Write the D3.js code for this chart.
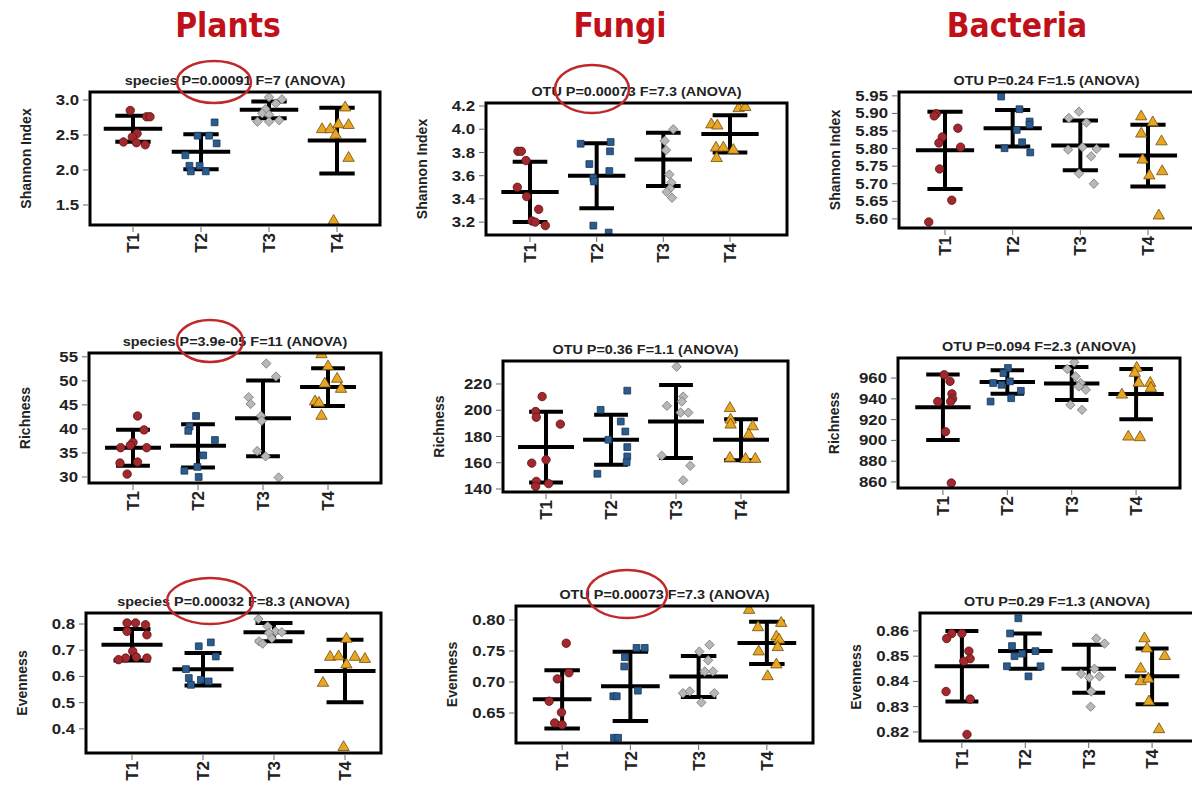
<!DOCTYPE html>
<html>
<head>
<meta charset="utf-8">
<script src="https://cdn.jsdelivr.net/npm/d3@7"></script>
<style>
  body { margin: 0; background: #fff; }
  svg { display: block; }
</style>
</head>
<body>
<svg id="chart" width="1192" height="787"></svg>
<script>
// ---- categories -----------------------------------------------------------
const groups = ["T1", "T2", "T3", "T4"];
const kingdoms = ["Plants", "Fungi", "Bacteria"];
const indexNames = ["Shannon Index", "Richness", "Evenness"];

// ---- observations: [jitter within group, value] ---------------------------
const plantsShannonPts = [
  [[-0.04,2.85],[0.20,2.76],[0.25,2.76],[0.06,2.52],[-0.01,2.47],[-0.14,2.40],[0.05,2.39],[0.18,2.36]],
  [[0.20,2.68],[0.12,2.49],[-0.05,2.49],[0.23,2.38],[-0.23,2.21],[-0.17,2.06],[-0.02,2.06],[-0.15,1.98],[0.07,1.98]],
  [[0,3.04],[0.19,3.01],[0.10,2.95],[-0.05,2.87],[-0.10,2.81],[0,2.79],[-0.17,2.69],[0,2.69],[0.15,2.71]],
  [[0.12,2.89],[-0.22,2.58],[-0.10,2.58],[-0.02,2.50],[0.02,2.65],[0.17,2.64],[0.17,2.17],[-0.05,1.27]]
];
const plantsShannonMean = [2.59, 2.26, 2.86, 2.42];
const plantsShannonSD = [0.185, 0.25, 0.12, 0.47];
const plantsShannonTicks = [1.5, 2.0, 2.5, 3.0];

const fungiShannonPts = [
  [[-0.18,3.81],[-0.13,3.81],[-0.06,3.73],[-0.19,3.50],[-0.05,3.42],[0.13,3.31],[0.03,3.21],[0.08,3.20],[0.23,3.17]],
  [[-0.24,3.875],[0.21,3.89],[0.20,3.81],[-0.11,3.70],[0.19,3.64],[-0.05,3.58],[-0.04,3.55],[-0.05,3.17],[0.18,3.11]],
  [[0.15,4.00],[0.02,3.90],[0.04,3.82],[0.09,3.61],[0.12,3.54],[0.10,3.49],[0.05,3.46],[0.13,3.41]],
  [[0.13,4.18],[0.23,4.19],[-0.28,4.04],[-0.19,4.03],[-0.21,3.84],[-0.10,3.84],[0.05,3.82],[-0.20,3.75]]
];
const fungiShannonMean = [3.46, 3.60, 3.74, 3.96];
const fungiShannonSD = [0.26, 0.28, 0.23, 0.16];
const fungiShannonTicks = [3.2, 3.4, 3.6, 3.8, 4.0, 4.2];

const bacteriaShannonPts = [
  [[-0.13,5.899],[-0.16,5.893],[0.19,5.858],[-0.04,5.833],[-0.09,5.816],[0.23,5.804],[-0.08,5.742],[0.10,5.653],[-0.24,5.591]],
  [[-0.17,5.948],[0.10,5.912],[0.25,5.877],[0.25,5.868],[0.06,5.853],[0.14,5.818],[-0.12,5.801],[0.26,5.789]],
  [[0.09,5.874],[-0.17,5.887],[-0.02,5.905],[-0.18,5.797],[0.03,5.804],[0.24,5.799],[0.16,5.778],[-0.02,5.729],[0.20,5.700]],
  [[-0.10,5.891],[0.07,5.874],[-0.10,5.842],[0.20,5.820],[-0.08,5.768],[0.21,5.735],[0.02,5.723],[0.16,5.609]]
];
const bacteriaShannonMean = [5.795, 5.858, 5.809, 5.780];
const bacteriaShannonSD = [0.11, 0.052, 0.071, 0.088];
const bacteriaShannonTicks = [5.60, 5.65, 5.70, 5.75, 5.80, 5.85, 5.90, 5.95];

const plantsRichnessPts = [
  [[0.07,42.7],[0.17,39.8],[0,37.2],[-0.04,36.6],[-0.19,36.1],[0.21,36.1],[-0.20,32.9],[0.07,33.1],[-0.09,30.6]],
  [[-0.03,42.7],[-0.13,40.5],[-0.15,39.6],[0.26,37.7],[0.08,34.5],[-0.01,32.1],[-0.21,31.3],[0.01,30.0]],
  [[0.05,53.6],[0.20,50.9],[-0.22,46.6],[-0.19,45.2],[-0.03,42.7],[-0.02,41.7],[-0.09,35.4],[0.04,34.3],[0.24,29.9]],
  [[-0.10,55.5],[0,53.0],[0.14,50.4],[-0.05,49.4],[0.20,48.3],[-0.20,45.7],[-0.14,45.4],[-0.10,42.7]]
];
const plantsRichnessMean = [36.1, 36.5, 42.2, 48.7];
const plantsRichnessSD = [3.75, 4.5, 7.9, 3.95];
const plantsRichnessTicks = [30, 35, 40, 45, 50, 55];

const fungiRichnessPts = [
  [[-0.06,210.4],[-0.16,199],[-0.15,194.7],[0.22,189.4],[0,162.3],[-0.22,159.7],[-0.15,145.8],[0.04,144.1],[-0.16,142.0]],
  [[0.25,214.9],[-0.16,200.3],[0.15,191.4],[0.22,183.8],[-0.04,177.5],[0.25,171.9],[0.25,164.8],[0.24,160.3],[-0.21,151.6]],
  [[0.01,233.2],[0.11,210.4],[0.09,206.6],[-0.14,203.3],[0.07,198.2],[0.19,198.2],[-0.22,165.3],[0.22,157.7],[0.11,146.6]],
  [[-0.17,201.5],[-0.16,192.7],[-0.16,188.9],[0.18,187.6],[0.12,181.3],[-0.17,163.5],[0.07,162.8],[0.22,162.8]]
];
const fungiRichnessMean = [171.9, 177.5, 191.4, 177.5];
const fungiRichnessSD = [27, 19, 27.8, 15.7];
const fungiRichnessTicks = [140, 160, 180, 200, 220];

const bacteriaRichnessPts = [
  [[0.02,963.2],[0.11,956.8],[0.14,944.8],[0.15,940],[0.12,937.4],[-0.08,937.4],[0.04,908.4],[0.13,859.0]],
  [[0.01,969.7],[-0.06,964.8],[0.04,956.8],[-0.22,955.2],[-0.09,953.5],[0.21,947.7],[0.06,940.6],[-0.26,937.4]],
  [[0.04,975.2],[-0.07,968.7],[0.06,961.6],[0.14,955.2],[0.11,951.9],[0.22,948.7],[-0.02,934.2],[0.16,929.4]],
  [[0.01,969.7],[-0.02,964.8],[0.04,955.2],[0.22,955.2],[0.23,950.3],[-0.22,943.9],[-0.12,903.5],[0.06,902.9]]
];
const bacteriaRichnessMean = [931.9, 956.1, 954.8, 944.6];
const bacteriaRichnessSD = [31.5, 11.3, 15.8, 24.2];
const bacteriaRichnessTicks = [860, 880, 900, 920, 940, 960];

const plantsEvennessPts = [
  [[-0.07,0.804],[0.05,0.804],[0.19,0.797],[-0.07,0.772],[0.21,0.759],[0.01,0.696],[0.06,0.674],[-0.09,0.670],[0.21,0.670],[-0.19,0.664]],
  [[0.11,0.730],[-0.06,0.715],[0.18,0.676],[-0.24,0.628],[-0.20,0.594],[-0.03,0.587],[0.08,0.581],[-0.17,0.568]],
  [[-0.22,0.819],[-0.09,0.791],[0.02,0.772],[0.11,0.769],[-0.07,0.766],[-0.03,0.746],[-0.21,0.734],[-0.16,0.725]],
  [[0.02,0.743],[-0.21,0.674],[-0.09,0.676],[0.14,0.674],[0.28,0.666],[0.02,0.645],[-0.31,0.575],[-0.02,0.330]]
];
const plantsEvennessMean = [0.721, 0.627, 0.769, 0.621];
const plantsEvennessSD = [0.060, 0.062, 0.035, 0.119];
const plantsEvennessTicks = [0.4, 0.5, 0.6, 0.7, 0.8];

const fungiEvennessPts = [
  [[0.06,0.7625],[0.10,0.715],[-0.07,0.705],[-0.19,0.669],[-0.01,0.651],[-0.11,0.634],[0,0.631]],
  [[0.21,0.755],[0.09,0.755],[-0.08,0.740],[-0.09,0.725],[0.11,0.686],[-0.25,0.677],[-0.20,0.677],[-0.24,0.610],[-0.18,0.610]],
  [[0.16,0.760],[0.01,0.749],[0.14,0.735],[0.21,0.717],[0.09,0.717],[-0.23,0.682],[-0.13,0.685],[0.23,0.682],[0.04,0.667]],
  [[-0.26,0.816],[0.21,0.795],[-0.13,0.788],[0.14,0.773],[0.18,0.768],[0.16,0.756],[-0.12,0.749],[0.14,0.728],[0.01,0.709]]
];
const fungiEvennessMean = [0.672, 0.693, 0.709, 0.763];
const fungiEvennessSD = [0.047, 0.056, 0.033, 0.034];
const fungiEvennessTicks = [0.65, 0.70, 0.75, 0.80];

const bacteriaEvennessPts = [
  [[0,0.859],[-0.16,0.859],[-0.24,0.857],[0.11,0.852],[0.13,0.849],[0.03,0.848],[-0.25,0.836],[0.13,0.833],[0.08,0.819]],
  [[-0.11,0.865],[-0.24,0.859],[-0.21,0.854],[0.16,0.852],[-0.05,0.851],[-0.17,0.850],[-0.29,0.846],[0.24,0.846],[0.05,0.842]],
  [[0.12,0.857],[0.25,0.855],[0.09,0.845],[-0.12,0.843],[0.17,0.842],[0.01,0.8415],[0.04,0.836],[0.03,0.830]],
  [[-0.12,0.857],[-0.08,0.853],[0.20,0.850],[-0.18,0.845],[-0.18,0.840],[-0.06,0.841],[-0.05,0.832],[0.11,0.821]]
];
const bacteriaEvennessMean = [0.846, 0.852, 0.845, 0.842];
const bacteriaEvennessSD = [0.014, 0.007, 0.0095, 0.011];
const bacteriaEvennessTicks = [0.82, 0.83, 0.84, 0.85, 0.86];

// ---- panel subtitles (test results) ---------------------------------------
const panelTitles = [
  "species P=0.00091 F=7 (ANOVA)", "OTU P=0.00073 F=7.3 (ANOVA)", "OTU P=0.24 F=1.5 (ANOVA)",
  "species P=3.9e-05 F=11 (ANOVA)", "OTU P=0.36 F=1.1 (ANOVA)", "OTU P=0.094 F=2.3 (ANOVA)",
  "species P=0.00032 F=8.3 (ANOVA)", "OTU P=0.00073 F=7.3 (ANOVA)", "OTU P=0.29 F=1.3 (ANOVA)"
];

// ---- panel geometry: plot box [left, right, top, bottom], axis extents ------
const panelLayout = [
  { box: [90, 380, 92, 225],   xd: [0.368, 4.632], yd: [1.214, 3.114],   fmt: ".1f" },
  { box: [486, 787, 103, 235], xd: [0.340, 4.855], yd: [3.089, 4.226],   fmt: ".1f" },
  { box: [899, 1194, 92, 228], xd: [0.320, 4.680], yd: [5.574, 5.961],   fmt: ".2f" },
  { box: [89, 381, 353, 483],  xd: [0.323, 4.815], yd: [28.75, 55.8],    fmt: "d" },
  { box: [503, 788, 361, 492], xd: [0.338, 4.723], yd: [137.7, 237.5],   fmt: "d" },
  { box: [898, 1180, 358, 488],xd: [0.302, 4.682], yd: [854.2, 979.3],   fmt: "d" },
  { box: [86, 381, 613, 753],  xd: [0.352, 4.507], yd: [0.308, 0.842],   fmt: ".1f" },
  { box: [516, 813, 606, 743], xd: [0.324, 4.676], yd: [0.6016, 0.8226], fmt: ".2f" },
  { box: [920, 1194, 613, 741],xd: [0.339, 4.661], yd: [0.8164, 0.8671], fmt: ".2f" }
];

const panelData = [
  [plantsShannonPts, plantsShannonMean, plantsShannonSD, plantsShannonTicks],
  [fungiShannonPts, fungiShannonMean, fungiShannonSD, fungiShannonTicks],
  [bacteriaShannonPts, bacteriaShannonMean, bacteriaShannonSD, bacteriaShannonTicks],
  [plantsRichnessPts, plantsRichnessMean, plantsRichnessSD, plantsRichnessTicks],
  [fungiRichnessPts, fungiRichnessMean, fungiRichnessSD, fungiRichnessTicks],
  [bacteriaRichnessPts, bacteriaRichnessMean, bacteriaRichnessSD, bacteriaRichnessTicks],
  [plantsEvennessPts, plantsEvennessMean, plantsEvennessSD, plantsEvennessTicks],
  [fungiEvennessPts, fungiEvennessMean, fungiEvennessSD, fungiEvennessTicks],
  [bacteriaEvennessPts, bacteriaEvennessMean, bacteriaEvennessSD, bacteriaEvennessTicks]
];

// red rings drawn around the significant P values
const highlightRings = [
  { cx: 214, cy: 82,  rx: 37, ry: 21 },
  { cx: 592, cy: 89,  rx: 37, ry: 24 },
  { cx: 210, cy: 341, rx: 33, ry: 21 },
  { cx: 210, cy: 601, rx: 43, ry: 23 },
  { cx: 627, cy: 594, rx: 40, ry: 24 }
];

const headerX = [228, 620, 1017];

// ---- styles ---------------------------------------------------------------
const fills   = ["#a3282d", "#2b5c8f", "#b8b8b8", "#e8a623"];
const strokes = ["#5a1416", "#1b3657", "#7a7a7a", "#6e4e0c"];
const font = "'Liberation Sans', Arial, sans-serif";

const svg = d3.select("#chart");

function markerPath(gi) {
  if (gi === 0) return d3.symbol().type(d3.symbolCircle).size(56)();
  if (gi === 1) return d3.symbol().type(d3.symbolSquare).size(46)();
  if (gi === 2) return d3.symbol().type(d3.symbolSquare).size(44)();
  return d3.symbol().type(d3.symbolTriangle).size(56)();
}

// column headers
svg.selectAll("text.header").data(kingdoms).join("text")
  .attr("class", "header")
  .attr("transform", (d, i) => `translate(${headerX[i]},37) scale(0.88,1)`)
  .attr("text-anchor", "middle")
  .attr("font-family", "'DejaVu Sans', Verdana, sans-serif")
  .attr("font-weight", "bold")
  .attr("font-size", 34)
  .attr("fill", "#c0101a")
  .text(d => d);

panelLayout.forEach((lay, pi) => {
  const [pts, means, sds, ticks] = panelData[pi];
  const [left, right, top, bottom] = lay.box;
  const x = d3.scaleLinear().domain(lay.xd).range([left, right]);
  const y = d3.scaleLinear().domain(lay.yd).range([bottom, top]);
  const g = svg.append("g");

  const clipId = "clip" + pi;
  svg.append("clipPath").attr("id", clipId)
    .append("rect").attr("x", left).attr("y", top)
    .attr("width", right - left).attr("height", bottom - top);

  // y axis: ticks and labels
  const fmt = d3.format(lay.fmt);
  const yt = g.append("g");
  yt.selectAll("line").data(ticks).join("line")
    .attr("x1", left - 7).attr("x2", left - 2)
    .attr("y1", d => y(d)).attr("y2", d => y(d))
    .attr("stroke", "#666").attr("stroke-width", 1);
  yt.selectAll("text").data(ticks).join("text")
    .attr("transform", d => `translate(${left - 11},${y(d)}) scale(1.2,1)`)
    .attr("dy", "0.36em")
    .attr("text-anchor", "end")
    .attr("font-family", font).attr("font-weight", "bold").attr("font-size", 14)
    .attr("fill", "#222")
    .text(d => fmt(d));

  // x axis: group ticks and rotated labels
  const xt = g.append("g");
  xt.selectAll("line").data(groups).join("line")
    .attr("x1", (d, i) => x(i + 1)).attr("x2", (d, i) => x(i + 1))
    .attr("y1", bottom + 2).attr("y2", bottom + 7)
    .attr("stroke", "#666").attr("stroke-width", 1);
  xt.selectAll("text").data(groups).join("text")
    .attr("transform", (d, i) => `translate(${x(i + 1)},${bottom + 8}) rotate(-90)`)
    .attr("dy", "0.36em")
    .attr("text-anchor", "end")
    .attr("font-family", font).attr("font-weight", "bold").attr("font-size", 17)
    .attr("fill", "#222")
    .text(d => d);

  // axis title
  g.append("text")
    .attr("transform", `translate(${left - 64},${(top + bottom) / 2}) rotate(-90)`)
    .attr("dy", "0.36em")
    .attr("text-anchor", "middle")
    .attr("font-family", font).attr("font-weight", "bold").attr("font-size", 14)
    .attr("fill", "#222")
    .text(indexNames[Math.floor(pi / 3)]);

  // panel subtitle
  g.append("text")
    .attr("transform", `translate(${(left + right) / 2},${top - 7}) scale(1.2,1)`)
    .attr("text-anchor", "middle")
    .attr("font-family", font).attr("font-weight", "bold").attr("font-size", 12)
    .attr("fill", "#222")
    .text(panelTitles[pi]);

  // mean +/- SD bars
  const inner = g.append("g").attr("clip-path", `url(#${clipId})`);
  groups.forEach((grp, gi) => {
    const cx = gi + 1, m = means[gi], s = sds[gi];
    const segs = [
      [cx, m + s, cx, m - s],
      [cx - 0.43, m, cx + 0.43, m],
      [cx - 0.26, m + s, cx + 0.26, m + s],
      [cx - 0.26, m - s, cx + 0.26, m - s]
    ];
    inner.selectAll(null).data(segs).join("line")
      .attr("x1", d => x(d[0])).attr("y1", d => y(d[1]))
      .attr("x2", d => x(d[2])).attr("y2", d => y(d[3]))
      .attr("stroke", "#000").attr("stroke-width", 4);
  });

  // jittered observations
  pts.forEach((grpPts, gi) => {
    inner.selectAll(null).data(grpPts).join("path")
      .attr("d", markerPath(gi))
      .attr("transform", d => `translate(${x(gi + 1 + d[0])},${y(d[1])})` + (gi === 2 ? " rotate(45)" : ""))
      .attr("fill", fills[gi])
      .attr("stroke", strokes[gi])
      .attr("stroke-width", 0.8);
  });

  // plot frame
  g.append("rect")
    .attr("x", left).attr("y", top)
    .attr("width", right - left).attr("height", bottom - top)
    .attr("fill", "none").attr("stroke", "#000").attr("stroke-width", 3);
});

// rings around the significant P values
svg.selectAll("ellipse.ring").data(highlightRings).join("ellipse")
  .attr("class", "ring")
  .attr("cx", d => d.cx).attr("cy", d => d.cy)
  .attr("rx", d => d.rx).attr("ry", d => d.ry)
  .attr("fill", "none").attr("stroke", "#c0282a").attr("stroke-width", 2.5);
</script>
</body>
</html>
